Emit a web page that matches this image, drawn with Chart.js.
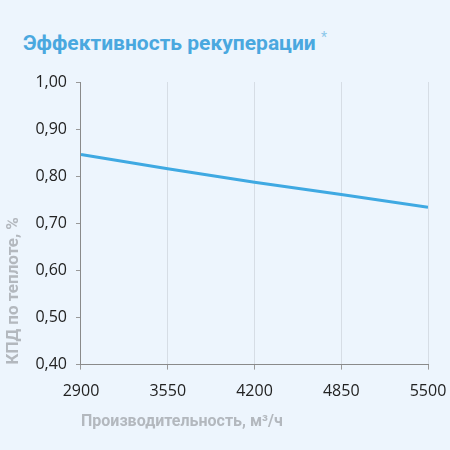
<!DOCTYPE html>
<html><head><meta charset="utf-8">
<script src="https://cdn.jsdelivr.net/npm/chart.js@4"></script>
<style>
html,body{margin:0;padding:0;background:#edf5fd;}
#wrap{position:relative;width:450px;height:450px;}
#title{position:absolute;left:23px;top:29px;font-family:Roboto,sans-serif;font-weight:bold;font-size:21px;color:#4aa8df;white-space:nowrap;}
#title sup{color:#8cc8ea;font-weight:normal;font-size:14px;}
canvas{position:absolute;left:0;top:0;}
</style></head><body>
<div id="wrap">
<div id="title">Эффективность рекуперации <sup>*</sup></div>
<canvas id="c" width="450" height="450"></canvas>
</div>
<script>
const flowRates = [2900, 3550, 4200, 4850, 5500];
const efficiency = [0.846, 0.816, 0.787, 0.761, 0.734];
const xTitle = "Производительность, м³/ч";
const yTitle = "КПД по теплоте, %";

new Chart(document.getElementById('c'), {
  type: 'line',
  data: {
    datasets: [{
      data: flowRates.map((x, i) => ({x: x, y: efficiency[i]})),
      borderColor: '#3fa9e2',
      borderWidth: 3,
      pointRadius: 0,
      tension: 0,
      fill: false
    }]
  },
  options: {
    responsive: false,
    animation: false,
    layout: {padding: {left: 2, right: 0, top: 82, bottom: 14}},
    plugins: {legend: {display: false}, tooltip: {enabled: false}},
    scales: {
      x: {
        type: 'linear', min: 2900, max: 5500,
        afterBuildTicks: a => { a.ticks = flowRates.map(v => ({value: v})); },
        afterFit: s => { s.paddingRight = 22; },
        ticks: {color: '#222', font: {family: 'Open Sans', size: 16}, padding: 12,
                callback: v => String(v)},
        grid: {color: '#d6dde5', drawOnChartArea: true, tickLength: 5, tickColor: '#999'},
        border: {color: '#8a8a8a', width: 1},
        title: {display: true, text: xTitle, align: 'start', color: '#b3b8be',
                font: {family: 'Roboto', size: 16, weight: 'bold'}, padding: {top: 0}}
      },
      y: {
        min: 0.4, max: 1.0,
        ticks: {stepSize: 0.1, color: '#222', font: {family: 'Open Sans', size: 16}, padding: 9,
                callback: v => v.toFixed(2).replace('.', ',')},
        grid: {drawOnChartArea: false, tickLength: 5, tickColor: '#999'},
        border: {color: '#8a8a8a', width: 1},
        title: {display: true, text: yTitle, align: 'start', color: '#b3b8be',
                font: {family: 'Roboto', size: 17, weight: 'bold'}, padding: {top: 2, bottom: 2}}
      }
    }
  }
});
</script>
</body></html>
